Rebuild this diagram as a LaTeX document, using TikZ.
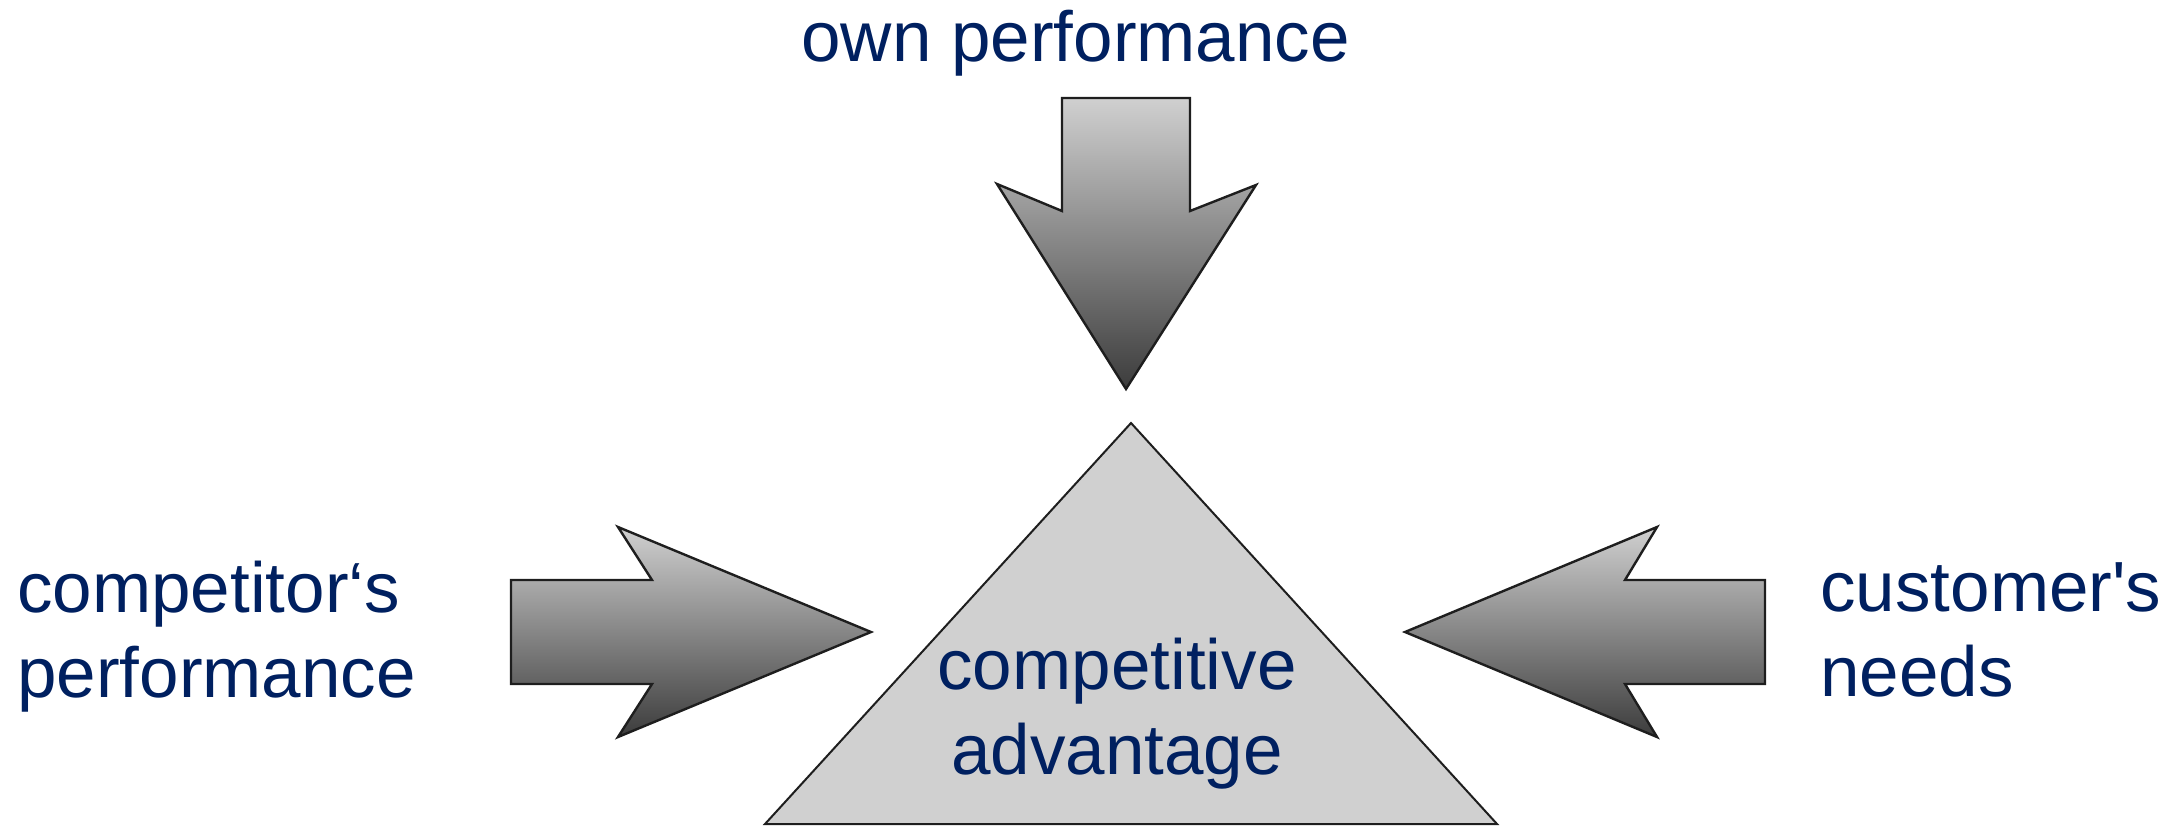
\documentclass[tikz,border=0pt]{standalone}
\usepackage{fontspec}
\setmainfont{Liberation Sans}
\definecolor{navy}{RGB}{0,32,96}
\definecolor{tri}{RGB}{208,208,208}
\definecolor{gtop}{RGB}{208,208,208}
\definecolor{gbot}{RGB}{60,60,60}
\definecolor{edge}{RGB}{30,30,30}
\tikzset{
  bigarrow/.style={draw=edge, line width=1.2pt, line join=miter, top color=gtop, bottom color=gbot},
  basetri/.style={draw=edge, line width=1pt, fill=tri},
  lbl/.style={inner sep=0pt, text=navy, font=\fontsize{35.5}{42.5}\selectfont}
}
\begin{document}
\begin{tikzpicture}[x=0.5pt, y=-0.5pt]
\useasboundingbox (0,0) rectangle (2177,825);
% central triangle
\draw[basetri] (1131,423) -- (1497,824) -- (765,824) -- cycle;
% top arrow
\draw[bigarrow] (1062,98) -- (1190,98) -- (1190,211) -- (1256,185) -- (1126,389) -- (997,184) -- (1062,211) -- cycle;
% left arrow
\draw[bigarrow] (511,580) -- (652,580) -- (618,527) -- (871,632) -- (618,737) -- (652,684) -- (511,684) -- cycle;
% right arrow
\draw[bigarrow] (1765,580) -- (1625,580) -- (1657,527) -- (1405,632) -- (1657,737) -- (1625,684) -- (1765,684) -- cycle;
% labels
\node[lbl, anchor=base west] (own) at (801,61) {own performance};
\node[lbl, anchor=base west] (comp) at (17,612) {\begin{tabular}[t]{@{}l@{}}competitor‘s\\performance\end{tabular}};
\node[lbl, anchor=base west] (cust) at (1820,611) {\begin{tabular}[t]{@{}l@{}}customer\textquotesingle s\\needs\end{tabular}};
\node[lbl, anchor=base] (adv) at (1117,689) {\begin{tabular}[t]{@{}c@{}}competitive\\advantage\end{tabular}};
\end{tikzpicture}
\end{document}
